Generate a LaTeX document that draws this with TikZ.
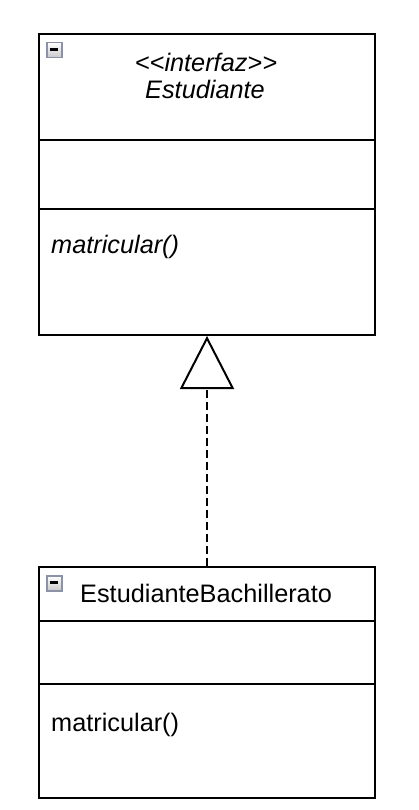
\documentclass[tikz,border=0pt]{standalone}
\usepackage{fontspec}
\setmainfont{Liberation Sans}
\usetikzlibrary{arrows.meta}
\definecolor{iconborder}{RGB}{140,146,165}
\definecolor{iconbottom}{RGB}{200,200,204}
\begin{document}
\begin{tikzpicture}[x=1pt,y=-1pt,
  classbox/.style={draw=black,line width=2pt,fill=white,rectangle,inner sep=0pt,anchor=north west},
  divider/.style={draw=black,line width=2pt},
  lbl/.style={font=\fontsize{25.3}{28}\selectfont,inner sep=0pt,anchor=base west},
  ilbl/.style={font=\fontsize{25.3}{28}\selectfont\itshape,inner sep=0pt,anchor=base},
  minusicon/.style={draw=iconborder,line width=1.5pt,top color=white,bottom color=iconbottom,rectangle,minimum size=15pt,inner sep=0pt,anchor=north west},
  realize/.style={line width=2pt,dash pattern=on 8pt off 4pt,-{Triangle[open,length=53pt,width=54pt,line width=2pt]}}
]
\useasboundingbox (0,0) rectangle (419,810);
% interface box
\node[classbox,minimum width=336pt,minimum height=301pt] (iface) at (38,33) {};
\draw[divider] (38,140) -- (374,140);
\draw[divider] (38,209) -- (374,209);
\node[minusicon] (icon1) at (46,42) {};
\draw[line width=2.5pt] (49.5,49.5) -- (57.5,49.5);
\node[ilbl] (stereo) at (206,71.5) {<\kern0pt<interfaz>\kern0pt>};
\node[ilbl] (iname) at (205,99) {Estudiante};
\node[lbl,font=\fontsize{25.3}{28}\selectfont\itshape] (iop) at (51,253) {matricular()};
% class box
\node[classbox,minimum width=336pt,minimum height=231pt] (cls) at (38,566) {};
\draw[divider] (38,621) -- (374,621);
\draw[divider] (38,684) -- (374,684);
\node[minusicon] (icon2) at (46,575) {};
\draw[line width=2.5pt] (49.5,582.5) -- (57.5,582.5);
\node[lbl] (cname) at (80,602.5) {EstudianteBachillerato};
\node[lbl] (cop) at (51,731) {matricular()};
% realization
\draw[realize] (cls.north) -- (iface.south);
\end{tikzpicture}
\end{document}
